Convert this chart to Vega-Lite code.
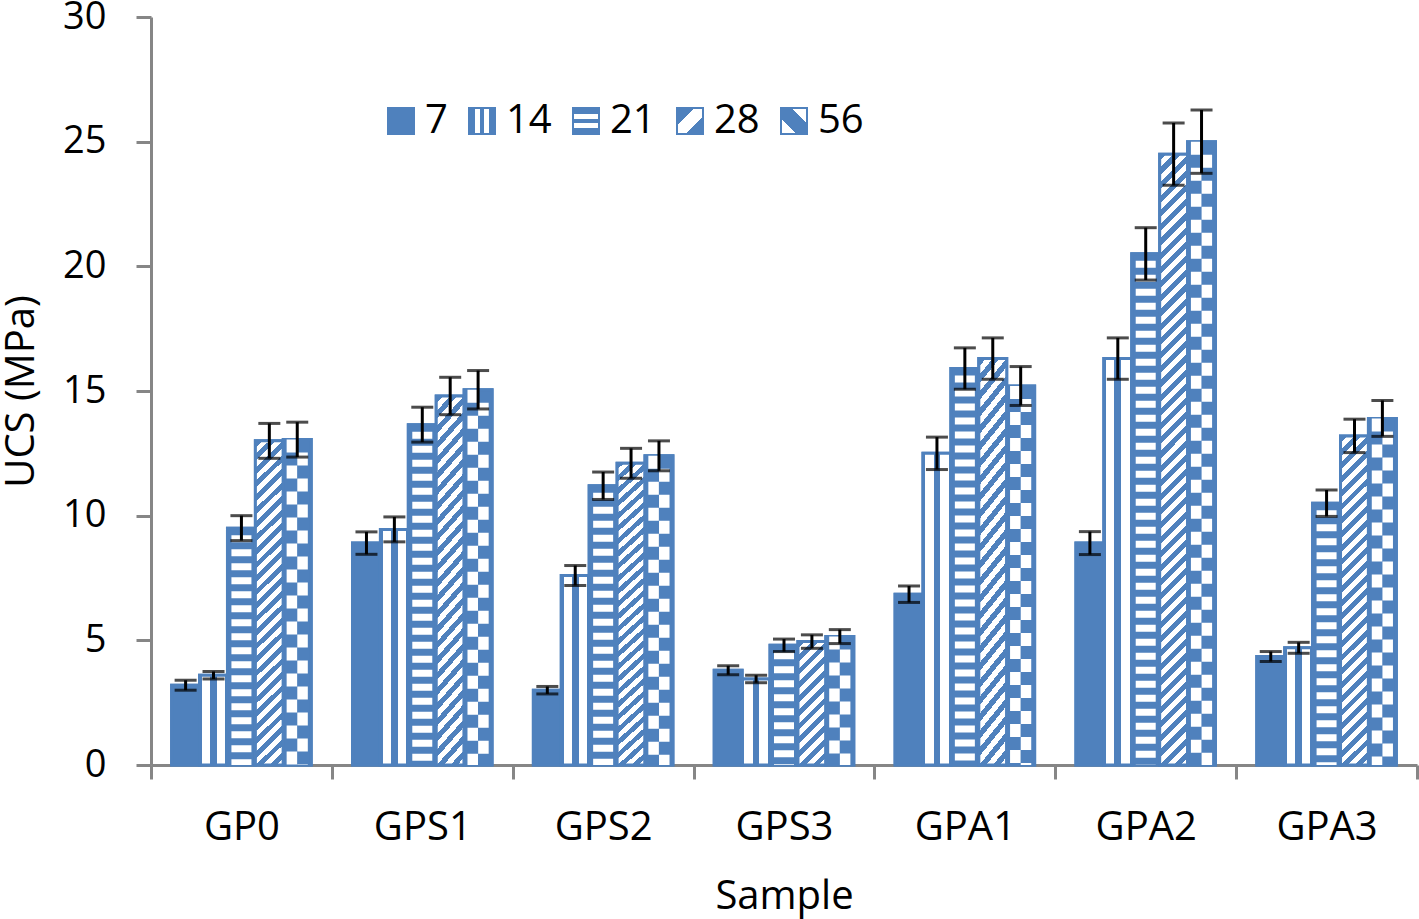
{
 "$schema": "https://vega.github.io/schema/vega-lite/v6.json",
 "width": 1266,
 "height": 748,
 "autosize": "none",
 "padding": {"left": 151, "top": 17, "right": 2, "bottom": 154},
 "background": "#ffffff",
 "config": {
  "font": "Open Sans",
  "view": {"stroke": null},
  "axis": {"labelColor": "#000000", "titleColor": "#000000", "titleFontWeight": "normal", "domainColor": "#868686", "tickColor": "#868686", "domainWidth": 3, "tickWidth": 3, "grid": false, "zindex": 1}
 },
 "data": {"values": [
  {"sample": "GP0", "age": "7", "ucs": 3.2, "low": 3.0, "high": 3.4},
  {"sample": "GP0", "age": "14", "ucs": 3.6, "low": 3.45, "high": 3.75},
  {"sample": "GP0", "age": "21", "ucs": 9.5, "low": 9.0, "high": 10.0},
  {"sample": "GP0", "age": "28", "ucs": 13.0, "low": 12.3, "high": 13.7},
  {"sample": "GP0", "age": "56", "ucs": 13.05, "low": 12.35, "high": 13.75},
  {"sample": "GPS1", "age": "7", "ucs": 8.9, "low": 8.45, "high": 9.35},
  {"sample": "GPS1", "age": "14", "ucs": 9.45, "low": 8.95, "high": 9.95},
  {"sample": "GPS1", "age": "21", "ucs": 13.65, "low": 12.95, "high": 14.35},
  {"sample": "GPS1", "age": "28", "ucs": 14.8, "low": 14.05, "high": 15.55},
  {"sample": "GPS1", "age": "56", "ucs": 15.05, "low": 14.28, "high": 15.82},
  {"sample": "GPS2", "age": "7", "ucs": 3.0, "low": 2.85, "high": 3.15},
  {"sample": "GPS2", "age": "14", "ucs": 7.6, "low": 7.2, "high": 8.0},
  {"sample": "GPS2", "age": "21", "ucs": 11.2, "low": 10.65, "high": 11.75},
  {"sample": "GPS2", "age": "28", "ucs": 12.1, "low": 11.5, "high": 12.7},
  {"sample": "GPS2", "age": "56", "ucs": 12.4, "low": 11.8, "high": 13.0},
  {"sample": "GPS3", "age": "7", "ucs": 3.8, "low": 3.62, "high": 3.98},
  {"sample": "GPS3", "age": "14", "ucs": 3.45, "low": 3.3, "high": 3.6},
  {"sample": "GPS3", "age": "21", "ucs": 4.8, "low": 4.55, "high": 5.05},
  {"sample": "GPS3", "age": "28", "ucs": 4.95, "low": 4.68, "high": 5.22},
  {"sample": "GPS3", "age": "56", "ucs": 5.15, "low": 4.87, "high": 5.43},
  {"sample": "GPA1", "age": "7", "ucs": 6.85, "low": 6.52, "high": 7.18},
  {"sample": "GPA1", "age": "14", "ucs": 12.5, "low": 11.85, "high": 13.15},
  {"sample": "GPA1", "age": "21", "ucs": 15.9, "low": 15.07, "high": 16.73},
  {"sample": "GPA1", "age": "28", "ucs": 16.3, "low": 15.47, "high": 17.13},
  {"sample": "GPA1", "age": "56", "ucs": 15.2, "low": 14.42, "high": 15.98},
  {"sample": "GPA2", "age": "7", "ucs": 8.9, "low": 8.44, "high": 9.36},
  {"sample": "GPA2", "age": "14", "ucs": 16.3, "low": 15.47, "high": 17.13},
  {"sample": "GPA2", "age": "21", "ucs": 20.5, "low": 19.45, "high": 21.55},
  {"sample": "GPA2", "age": "28", "ucs": 24.5, "low": 23.25, "high": 25.75},
  {"sample": "GPA2", "age": "56", "ucs": 25.0, "low": 23.73, "high": 26.27},
  {"sample": "GPA3", "age": "7", "ucs": 4.35, "low": 4.15, "high": 4.55},
  {"sample": "GPA3", "age": "14", "ucs": 4.7, "low": 4.48, "high": 4.92},
  {"sample": "GPA3", "age": "21", "ucs": 10.5, "low": 9.97, "high": 11.03},
  {"sample": "GPA3", "age": "28", "ucs": 13.2, "low": 12.53, "high": 13.87},
  {"sample": "GPA3", "age": "56", "ucs": 13.9, "low": 13.18, "high": 14.62}
 ]},
 "encoding": {
  "x": {
   "field": "sample", "type": "nominal",
   "scale": {"domain": ["GP0", "GPS1", "GPS2", "GPS3", "GPA1", "GPA2", "GPA3"], "paddingInner": 0, "paddingOuter": 0},
   "axis": {"title": "Sample", "labelAngle": 0, "tickBand": "extent", "tickSize": 14, "labelFontSize": 40, "labelPadding": 28, "titleFontSize": 40, "titlePadding": 29}
  }
 },
 "layer": [
  {
   "mark": {"type": "bar", "stroke": "#4F81BD", "strokeWidth": 3},
   "encoding": {
    "xOffset": {"field": "age", "type": "nominal", "scale": {"domain": ["7", "14", "21", "28", "56"], "paddingInner": 0, "paddingOuter": 0.74}},
    "y": {"field": "ucs", "type": "quantitative", "title": "UCS (MPa)", "scale": {"domain": [0, 30]},
     "axis": {"values": [0, 5, 10, 15, 20, 25, 30], "tickSize": 15, "labelFontSize": 38, "labelPadding": 30, "titleFontSize": 40, "titlePadding": 21}},
    "fill": {
     "field": "age", "type": "nominal",
     "scale": {"domain": ["7", "14", "21", "28", "56"], "range": [
      "#4F81BD",
      {"expr": "{gradient:'linear',x1:0,y1:0,x2:1,y2:0,stops:[{offset:0,color:'#4F81BD'},{offset:0.24,color:'#4F81BD'},{offset:0.24,color:'#ffffff'},{offset:0.42,color:'#ffffff'},{offset:0.42,color:'#4F81BD'},{offset:0.58,color:'#4F81BD'},{offset:0.58,color:'#ffffff'},{offset:0.76,color:'#ffffff'},{offset:0.76,color:'#4F81BD'},{offset:1,color:'#4F81BD'}]}"},
      {"expr": "{gradient:'linear',x1:0,y1:0,x2:0,y2:1,stops:[{offset:0,color:'#4F81BD'},{offset:0.24,color:'#4F81BD'},{offset:0.24,color:'#ffffff'},{offset:0.42,color:'#ffffff'},{offset:0.42,color:'#4F81BD'},{offset:0.58,color:'#4F81BD'},{offset:0.58,color:'#ffffff'},{offset:0.76,color:'#ffffff'},{offset:0.76,color:'#4F81BD'},{offset:1,color:'#4F81BD'}]}"},
      {"expr": "{gradient:'linear',x1:0,y1:0,x2:1,y2:1,stops:[{offset:0,color:'#4F81BD'},{offset:0.34,color:'#4F81BD'},{offset:0.34,color:'#ffffff'},{offset:0.66,color:'#ffffff'},{offset:0.66,color:'#4F81BD'},{offset:1,color:'#4F81BD'}]}"},
      {"expr": "{gradient:'linear',x1:0,y1:1,x2:1,y2:0,stops:[{offset:0,color:'#ffffff'},{offset:0.3,color:'#ffffff'},{offset:0.3,color:'#4F81BD'},{offset:0.7,color:'#4F81BD'},{offset:0.7,color:'#ffffff'},{offset:1,color:'#ffffff'}]}"}
     ]},
     "legend": {"orient": "none", "legendX": 230, "legendY": 84, "direction": "horizontal", "title": null, "symbolType": "square", "symbolSize": 676, "symbolStrokeColor": "#4F81BD", "symbolStrokeWidth": 2, "labelFontSize": 40, "labelColor": "#000000", "labelOffset": 4, "columnPadding": 14}
    }
   }
  },
  {
   "mark": {"type": "bar", "stroke": "#4F81BD", "strokeWidth": 3},
   "encoding": {
    "xOffset": {"field": "age", "type": "nominal", "scale": {"domain": ["7", "14", "21", "28", "56"], "paddingInner": 0, "paddingOuter": 0.74}},
    "y": {"field": "ucs", "type": "quantitative", "title": "UCS (MPa)"},
    "fill": {
     "condition": [
      {"test": "datum.age === '14'", "value": {"gradient": "linear", "x1": 0, "y1": 0, "x2": 1, "y2": 0, "stops": [
       {"offset": 0, "color": "#4F81BD"}, {"offset": 0.08, "color": "#4F81BD"}, {"offset": 0.08, "color": "#ffffff"}, {"offset": 0.38, "color": "#ffffff"}, {"offset": 0.38, "color": "#4F81BD"}, {"offset": 0.62, "color": "#4F81BD"}, {"offset": 0.62, "color": "#ffffff"}, {"offset": 0.92, "color": "#ffffff"}, {"offset": 0.92, "color": "#4F81BD"}, {"offset": 1, "color": "#4F81BD"}]}},
      {"test": "datum.age === '28' && datum.sample === 'GPA2'", "value": {"gradient": "linear", "x1": 0, "y1": 0, "x2": 0.0477, "y2": 1.0435, "stops": [
       {"offset": 0, "color": "#4F81BD"},
       {"offset": 0.0111, "color": "#4F81BD"}, {"offset": 0.0111, "color": "#fff"},
       {"offset": 0.0222, "color": "#fff"}, {"offset": 0.0222, "color": "#4F81BD"},
       {"offset": 0.0333, "color": "#4F81BD"}, {"offset": 0.0333, "color": "#fff"},
       {"offset": 0.0444, "color": "#fff"}, {"offset": 0.0444, "color": "#4F81BD"},
       {"offset": 0.0556, "color": "#4F81BD"}, {"offset": 0.0556, "color": "#fff"},
       {"offset": 0.0667, "color": "#fff"}, {"offset": 0.0667, "color": "#4F81BD"},
       {"offset": 0.0778, "color": "#4F81BD"}, {"offset": 0.0778, "color": "#fff"},
       {"offset": 0.0889, "color": "#fff"}, {"offset": 0.0889, "color": "#4F81BD"},
       {"offset": 0.1, "color": "#4F81BD"}, {"offset": 0.1, "color": "#fff"},
       {"offset": 0.1111, "color": "#fff"}, {"offset": 0.1111, "color": "#4F81BD"},
       {"offset": 0.1222, "color": "#4F81BD"}, {"offset": 0.1222, "color": "#fff"},
       {"offset": 0.1333, "color": "#fff"}, {"offset": 0.1333, "color": "#4F81BD"},
       {"offset": 0.1444, "color": "#4F81BD"}, {"offset": 0.1444, "color": "#fff"},
       {"offset": 0.1556, "color": "#fff"}, {"offset": 0.1556, "color": "#4F81BD"},
       {"offset": 0.1667, "color": "#4F81BD"}, {"offset": 0.1667, "color": "#fff"},
       {"offset": 0.1778, "color": "#fff"}, {"offset": 0.1778, "color": "#4F81BD"},
       {"offset": 0.1889, "color": "#4F81BD"}, {"offset": 0.1889, "color": "#fff"},
       {"offset": 0.2, "color": "#fff"}, {"offset": 0.2, "color": "#4F81BD"},
       {"offset": 0.2111, "color": "#4F81BD"}, {"offset": 0.2111, "color": "#fff"},
       {"offset": 0.2222, "color": "#fff"}, {"offset": 0.2222, "color": "#4F81BD"},
       {"offset": 0.2333, "color": "#4F81BD"}, {"offset": 0.2333, "color": "#fff"},
       {"offset": 0.2444, "color": "#fff"}, {"offset": 0.2444, "color": "#4F81BD"},
       {"offset": 0.2556, "color": "#4F81BD"}, {"offset": 0.2556, "color": "#fff"},
       {"offset": 0.2667, "color": "#fff"}, {"offset": 0.2667, "color": "#4F81BD"},
       {"offset": 0.2778, "color": "#4F81BD"}, {"offset": 0.2778, "color": "#fff"},
       {"offset": 0.2889, "color": "#fff"}, {"offset": 0.2889, "color": "#4F81BD"},
       {"offset": 0.3, "color": "#4F81BD"}, {"offset": 0.3, "color": "#fff"},
       {"offset": 0.3111, "color": "#fff"}, {"offset": 0.3111, "color": "#4F81BD"},
       {"offset": 0.3222, "color": "#4F81BD"}, {"offset": 0.3222, "color": "#fff"},
       {"offset": 0.3333, "color": "#fff"}, {"offset": 0.3333, "color": "#4F81BD"},
       {"offset": 0.3444, "color": "#4F81BD"}, {"offset": 0.3444, "color": "#fff"},
       {"offset": 0.3556, "color": "#fff"}, {"offset": 0.3556, "color": "#4F81BD"},
       {"offset": 0.3667, "color": "#4F81BD"}, {"offset": 0.3667, "color": "#fff"},
       {"offset": 0.3778, "color": "#fff"}, {"offset": 0.3778, "color": "#4F81BD"},
       {"offset": 0.3889, "color": "#4F81BD"}, {"offset": 0.3889, "color": "#fff"},
       {"offset": 0.4, "color": "#fff"}, {"offset": 0.4, "color": "#4F81BD"},
       {"offset": 0.4111, "color": "#4F81BD"}, {"offset": 0.4111, "color": "#fff"},
       {"offset": 0.4222, "color": "#fff"}, {"offset": 0.4222, "color": "#4F81BD"},
       {"offset": 0.4333, "color": "#4F81BD"}, {"offset": 0.4333, "color": "#fff"},
       {"offset": 0.4444, "color": "#fff"}, {"offset": 0.4444, "color": "#4F81BD"},
       {"offset": 0.4556, "color": "#4F81BD"}, {"offset": 0.4556, "color": "#fff"},
       {"offset": 0.4667, "color": "#fff"}, {"offset": 0.4667, "color": "#4F81BD"},
       {"offset": 0.4778, "color": "#4F81BD"}, {"offset": 0.4778, "color": "#fff"},
       {"offset": 0.4889, "color": "#fff"}, {"offset": 0.4889, "color": "#4F81BD"},
       {"offset": 0.5, "color": "#4F81BD"}, {"offset": 0.5, "color": "#fff"},
       {"offset": 0.5111, "color": "#fff"}, {"offset": 0.5111, "color": "#4F81BD"},
       {"offset": 0.5222, "color": "#4F81BD"}, {"offset": 0.5222, "color": "#fff"},
       {"offset": 0.5333, "color": "#fff"}, {"offset": 0.5333, "color": "#4F81BD"},
       {"offset": 0.5444, "color": "#4F81BD"}, {"offset": 0.5444, "color": "#fff"},
       {"offset": 0.5556, "color": "#fff"}, {"offset": 0.5556, "color": "#4F81BD"},
       {"offset": 0.5667, "color": "#4F81BD"}, {"offset": 0.5667, "color": "#fff"},
       {"offset": 0.5778, "color": "#fff"}, {"offset": 0.5778, "color": "#4F81BD"},
       {"offset": 0.5889, "color": "#4F81BD"}, {"offset": 0.5889, "color": "#fff"},
       {"offset": 0.6, "color": "#fff"}, {"offset": 0.6, "color": "#4F81BD"},
       {"offset": 0.6111, "color": "#4F81BD"}, {"offset": 0.6111, "color": "#fff"},
       {"offset": 0.6222, "color": "#fff"}, {"offset": 0.6222, "color": "#4F81BD"},
       {"offset": 0.6333, "color": "#4F81BD"}, {"offset": 0.6333, "color": "#fff"},
       {"offset": 0.6444, "color": "#fff"}, {"offset": 0.6444, "color": "#4F81BD"},
       {"offset": 0.6556, "color": "#4F81BD"}, {"offset": 0.6556, "color": "#fff"},
       {"offset": 0.6667, "color": "#fff"}, {"offset": 0.6667, "color": "#4F81BD"},
       {"offset": 0.6778, "color": "#4F81BD"}, {"offset": 0.6778, "color": "#fff"},
       {"offset": 0.6889, "color": "#fff"}, {"offset": 0.6889, "color": "#4F81BD"},
       {"offset": 0.7, "color": "#4F81BD"}, {"offset": 0.7, "color": "#fff"},
       {"offset": 0.7111, "color": "#fff"}, {"offset": 0.7111, "color": "#4F81BD"},
       {"offset": 0.7222, "color": "#4F81BD"}, {"offset": 0.7222, "color": "#fff"},
       {"offset": 0.7333, "color": "#fff"}, {"offset": 0.7333, "color": "#4F81BD"},
       {"offset": 0.7444, "color": "#4F81BD"}, {"offset": 0.7444, "color": "#fff"},
       {"offset": 0.7556, "color": "#fff"}, {"offset": 0.7556, "color": "#4F81BD"},
       {"offset": 0.7667, "color": "#4F81BD"}, {"offset": 0.7667, "color": "#fff"},
       {"offset": 0.7778, "color": "#fff"}, {"offset": 0.7778, "color": "#4F81BD"},
       {"offset": 0.7889, "color": "#4F81BD"}, {"offset": 0.7889, "color": "#fff"},
       {"offset": 0.8, "color": "#fff"}, {"offset": 0.8, "color": "#4F81BD"},
       {"offset": 0.8111, "color": "#4F81BD"}, {"offset": 0.8111, "color": "#fff"},
       {"offset": 0.8222, "color": "#fff"}, {"offset": 0.8222, "color": "#4F81BD"},
       {"offset": 0.8333, "color": "#4F81BD"}, {"offset": 0.8333, "color": "#fff"},
       {"offset": 0.8444, "color": "#fff"}, {"offset": 0.8444, "color": "#4F81BD"},
       {"offset": 0.8556, "color": "#4F81BD"}, {"offset": 0.8556, "color": "#fff"},
       {"offset": 0.8667, "color": "#fff"}, {"offset": 0.8667, "color": "#4F81BD"},
       {"offset": 0.8778, "color": "#4F81BD"}, {"offset": 0.8778, "color": "#fff"},
       {"offset": 0.8889, "color": "#fff"}, {"offset": 0.8889, "color": "#4F81BD"},
       {"offset": 0.9, "color": "#4F81BD"}, {"offset": 0.9, "color": "#fff"},
       {"offset": 0.9111, "color": "#fff"}, {"offset": 0.9111, "color": "#4F81BD"},
       {"offset": 0.9222, "color": "#4F81BD"}, {"offset": 0.9222, "color": "#fff"},
       {"offset": 0.9333, "color": "#fff"}, {"offset": 0.9333, "color": "#4F81BD"},
       {"offset": 0.9444, "color": "#4F81BD"}, {"offset": 0.9444, "color": "#fff"},
       {"offset": 0.9556, "color": "#fff"}, {"offset": 0.9556, "color": "#4F81BD"},
       {"offset": 0.9667, "color": "#4F81BD"}, {"offset": 0.9667, "color": "#fff"},
       {"offset": 0.9778, "color": "#fff"}, {"offset": 0.9778, "color": "#4F81BD"},
       {"offset": 0.9889, "color": "#4F81BD"}, {"offset": 0.9889, "color": "#fff"},
       {"offset": 1, "color": "#fff"}]}},
      {"test": "datum.age === '28' && datum.sample === 'GPS3'", "value": {"gradient": "linear", "x1": 0, "y1": 0, "x2": 0.2637, "y2": 1.1665, "stops": [
       {"offset": 0, "color": "#4F81BD"},
       {"offset": 0.0455, "color": "#4F81BD"}, {"offset": 0.0455, "color": "#fff"},
       {"offset": 0.0909, "color": "#fff"}, {"offset": 0.0909, "color": "#4F81BD"},
       {"offset": 0.1364, "color": "#4F81BD"}, {"offset": 0.1364, "color": "#fff"},
       {"offset": 0.1818, "color": "#fff"}, {"offset": 0.1818, "color": "#4F81BD"},
       {"offset": 0.2273, "color": "#4F81BD"}, {"offset": 0.2273, "color": "#fff"},
       {"offset": 0.2727, "color": "#fff"}, {"offset": 0.2727, "color": "#4F81BD"},
       {"offset": 0.3182, "color": "#4F81BD"}, {"offset": 0.3182, "color": "#fff"},
       {"offset": 0.3636, "color": "#fff"}, {"offset": 0.3636, "color": "#4F81BD"},
       {"offset": 0.4091, "color": "#4F81BD"}, {"offset": 0.4091, "color": "#fff"},
       {"offset": 0.4545, "color": "#fff"}, {"offset": 0.4545, "color": "#4F81BD"},
       {"offset": 0.5, "color": "#4F81BD"}, {"offset": 0.5, "color": "#fff"},
       {"offset": 0.5455, "color": "#fff"}, {"offset": 0.5455, "color": "#4F81BD"},
       {"offset": 0.5909, "color": "#4F81BD"}, {"offset": 0.5909, "color": "#fff"},
       {"offset": 0.6364, "color": "#fff"}, {"offset": 0.6364, "color": "#4F81BD"},
       {"offset": 0.6818, "color": "#4F81BD"}, {"offset": 0.6818, "color": "#fff"},
       {"offset": 0.7273, "color": "#fff"}, {"offset": 0.7273, "color": "#4F81BD"},
       {"offset": 0.7727, "color": "#4F81BD"}, {"offset": 0.7727, "color": "#fff"},
       {"offset": 0.8182, "color": "#fff"}, {"offset": 0.8182, "color": "#4F81BD"},
       {"offset": 0.8636, "color": "#4F81BD"}, {"offset": 0.8636, "color": "#fff"},
       {"offset": 0.9091, "color": "#fff"}, {"offset": 0.9091, "color": "#4F81BD"},
       {"offset": 0.9545, "color": "#4F81BD"}, {"offset": 0.9545, "color": "#fff"},
       {"offset": 1, "color": "#fff"}]}},
      {"test": "datum.age === '28'", "value": {"gradient": "linear", "x1": 0, "y1": 0, "x2": 0.091, "y2": 1.077, "stops": [
       {"offset": 0, "color": "#4F81BD"},
       {"offset": 0.0192, "color": "#4F81BD"}, {"offset": 0.0192, "color": "#fff"},
       {"offset": 0.0385, "color": "#fff"}, {"offset": 0.0385, "color": "#4F81BD"},
       {"offset": 0.0577, "color": "#4F81BD"}, {"offset": 0.0577, "color": "#fff"},
       {"offset": 0.0769, "color": "#fff"}, {"offset": 0.0769, "color": "#4F81BD"},
       {"offset": 0.0962, "color": "#4F81BD"}, {"offset": 0.0962, "color": "#fff"},
       {"offset": 0.1154, "color": "#fff"}, {"offset": 0.1154, "color": "#4F81BD"},
       {"offset": 0.1346, "color": "#4F81BD"}, {"offset": 0.1346, "color": "#fff"},
       {"offset": 0.1538, "color": "#fff"}, {"offset": 0.1538, "color": "#4F81BD"},
       {"offset": 0.1731, "color": "#4F81BD"}, {"offset": 0.1731, "color": "#fff"},
       {"offset": 0.1923, "color": "#fff"}, {"offset": 0.1923, "color": "#4F81BD"},
       {"offset": 0.2115, "color": "#4F81BD"}, {"offset": 0.2115, "color": "#fff"},
       {"offset": 0.2308, "color": "#fff"}, {"offset": 0.2308, "color": "#4F81BD"},
       {"offset": 0.25, "color": "#4F81BD"}, {"offset": 0.25, "color": "#fff"},
       {"offset": 0.2692, "color": "#fff"}, {"offset": 0.2692, "color": "#4F81BD"},
       {"offset": 0.2885, "color": "#4F81BD"}, {"offset": 0.2885, "color": "#fff"},
       {"offset": 0.3077, "color": "#fff"}, {"offset": 0.3077, "color": "#4F81BD"},
       {"offset": 0.3269, "color": "#4F81BD"}, {"offset": 0.3269, "color": "#fff"},
       {"offset": 0.3462, "color": "#fff"}, {"offset": 0.3462, "color": "#4F81BD"},
       {"offset": 0.3654, "color": "#4F81BD"}, {"offset": 0.3654, "color": "#fff"},
       {"offset": 0.3846, "color": "#fff"}, {"offset": 0.3846, "color": "#4F81BD"},
       {"offset": 0.4038, "color": "#4F81BD"}, {"offset": 0.4038, "color": "#fff"},
       {"offset": 0.4231, "color": "#fff"}, {"offset": 0.4231, "color": "#4F81BD"},
       {"offset": 0.4423, "color": "#4F81BD"}, {"offset": 0.4423, "color": "#fff"},
       {"offset": 0.4615, "color": "#fff"}, {"offset": 0.4615, "color": "#4F81BD"},
       {"offset": 0.4808, "color": "#4F81BD"}, {"offset": 0.4808, "color": "#fff"},
       {"offset": 0.5, "color": "#fff"}, {"offset": 0.5, "color": "#4F81BD"},
       {"offset": 0.5192, "color": "#4F81BD"}, {"offset": 0.5192, "color": "#fff"},
       {"offset": 0.5385, "color": "#fff"}, {"offset": 0.5385, "color": "#4F81BD"},
       {"offset": 0.5577, "color": "#4F81BD"}, {"offset": 0.5577, "color": "#fff"},
       {"offset": 0.5769, "color": "#fff"}, {"offset": 0.5769, "color": "#4F81BD"},
       {"offset": 0.5962, "color": "#4F81BD"}, {"offset": 0.5962, "color": "#fff"},
       {"offset": 0.6154, "color": "#fff"}, {"offset": 0.6154, "color": "#4F81BD"},
       {"offset": 0.6346, "color": "#4F81BD"}, {"offset": 0.6346, "color": "#fff"},
       {"offset": 0.6538, "color": "#fff"}, {"offset": 0.6538, "color": "#4F81BD"},
       {"offset": 0.6731, "color": "#4F81BD"}, {"offset": 0.6731, "color": "#fff"},
       {"offset": 0.6923, "color": "#fff"}, {"offset": 0.6923, "color": "#4F81BD"},
       {"offset": 0.7115, "color": "#4F81BD"}, {"offset": 0.7115, "color": "#fff"},
       {"offset": 0.7308, "color": "#fff"}, {"offset": 0.7308, "color": "#4F81BD"},
       {"offset": 0.75, "color": "#4F81BD"}, {"offset": 0.75, "color": "#fff"},
       {"offset": 0.7692, "color": "#fff"}, {"offset": 0.7692, "color": "#4F81BD"},
       {"offset": 0.7885, "color": "#4F81BD"}, {"offset": 0.7885, "color": "#fff"},
       {"offset": 0.8077, "color": "#fff"}, {"offset": 0.8077, "color": "#4F81BD"},
       {"offset": 0.8269, "color": "#4F81BD"}, {"offset": 0.8269, "color": "#fff"},
       {"offset": 0.8462, "color": "#fff"}, {"offset": 0.8462, "color": "#4F81BD"},
       {"offset": 0.8654, "color": "#4F81BD"}, {"offset": 0.8654, "color": "#fff"},
       {"offset": 0.8846, "color": "#fff"}, {"offset": 0.8846, "color": "#4F81BD"},
       {"offset": 0.9038, "color": "#4F81BD"}, {"offset": 0.9038, "color": "#fff"},
       {"offset": 0.9231, "color": "#fff"}, {"offset": 0.9231, "color": "#4F81BD"},
       {"offset": 0.9423, "color": "#4F81BD"}, {"offset": 0.9423, "color": "#fff"},
       {"offset": 0.9615, "color": "#fff"}, {"offset": 0.9615, "color": "#4F81BD"},
       {"offset": 0.9808, "color": "#4F81BD"}, {"offset": 0.9808, "color": "#fff"},
       {"offset": 1, "color": "#fff"}]}}
     ],
     "value": "#4F81BD"
    }
   }
  },
  {
   "transform": [{"filter": "datum.age === '21'"}],
   "mark": {"type": "rule", "color": "#ffffff", "strokeWidth": 20, "strokeDash": [7, 7], "strokeDashOffset": 7, "strokeCap": "butt"},
   "encoding": {
    "xOffset": {"field": "age", "type": "nominal", "scale": {"domain": ["7", "14", "21", "28", "56"], "paddingInner": 0, "paddingOuter": 0.74}},
    "y": {"field": "ucs", "type": "quantitative", "title": "UCS (MPa)"},
    "y2": {"datum": 0}
   }
  },
  {
   "transform": [{"filter": "datum.age === '56'"}],
   "mark": {"type": "rule", "color": "#ffffff", "strokeWidth": 10.5, "strokeDash": [13, 13], "strokeDashOffset": 0, "strokeCap": "butt"},
   "encoding": {
    "x": {"field": "sample", "type": "nominal", "bandPosition": 0.779},
    "y": {"field": "ucs", "type": "quantitative", "title": "UCS (MPa)"},
    "y2": {"datum": 0}
   }
  },
  {
   "transform": [{"filter": "datum.age === '56'"}],
   "mark": {"type": "rule", "color": "#ffffff", "strokeWidth": 10.5, "strokeDash": [13, 13], "strokeDashOffset": 13, "strokeCap": "butt"},
   "encoding": {
    "x": {"field": "sample", "type": "nominal", "bandPosition": 0.838},
    "y": {"field": "ucs", "type": "quantitative", "title": "UCS (MPa)"},
    "y2": {"datum": 0}
   }
  },
  {
   "mark": {"type": "rule", "color": "#000000", "strokeWidth": 3},
   "encoding": {
    "xOffset": {"field": "age", "type": "nominal", "scale": {"domain": ["7", "14", "21", "28", "56"], "paddingInner": 0, "paddingOuter": 0.74}},
    "y": {"field": "low", "type": "quantitative", "title": "UCS (MPa)"},
    "y2": {"field": "high"}
   }
  },
  {
   "mark": {"type": "tick", "color": "#000000", "thickness": 3, "size": 22, "orient": "horizontal"},
   "encoding": {
    "xOffset": {"field": "age", "type": "nominal", "scale": {"domain": ["7", "14", "21", "28", "56"], "paddingInner": 0, "paddingOuter": 0.74}},
    "y": {"field": "low", "type": "quantitative", "title": "UCS (MPa)"}
   }
  },
  {
   "mark": {"type": "tick", "color": "#000000", "thickness": 3, "size": 22, "orient": "horizontal"},
   "encoding": {
    "xOffset": {"field": "age", "type": "nominal", "scale": {"domain": ["7", "14", "21", "28", "56"], "paddingInner": 0, "paddingOuter": 0.74}},
    "y": {"field": "high", "type": "quantitative", "title": "UCS (MPa)"}
   }
  }
 ]
}
